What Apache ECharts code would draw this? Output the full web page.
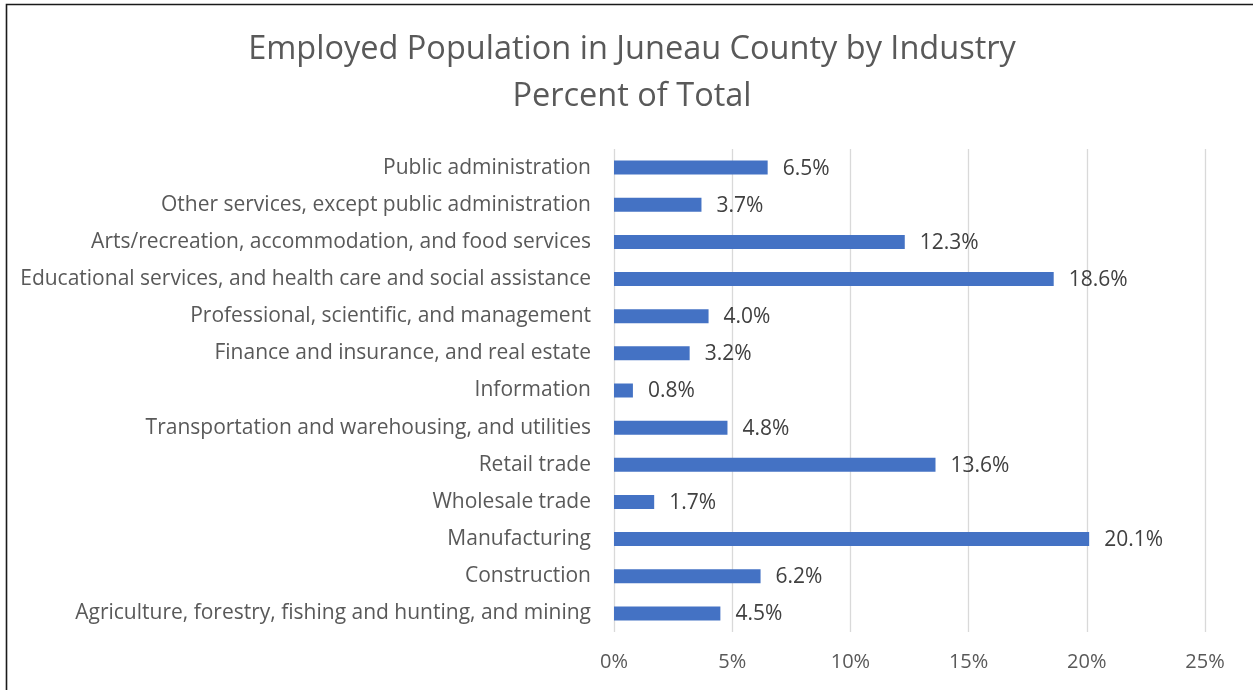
<!DOCTYPE html>
<html>
<head>
<meta charset="utf-8">
<script src="https://cdn.jsdelivr.net/npm/echarts@6/dist/echarts.min.js"></script>
<style>
html,body{margin:0;padding:0;background:#fff;}
#chart{width:1253px;height:690px;}
</style>
</head>
<body>
<div id="chart"></div>
<script>
const categories = [
  "Agriculture, forestry, fishing and hunting, and mining",
  "Construction",
  "Manufacturing",
  "Wholesale trade",
  "Retail trade",
  "Transportation and warehousing, and utilities",
  "Information",
  "Finance and insurance, and real estate",
  "Professional, scientific, and management",
  "Educational services, and health care and social assistance",
  "Arts/recreation, accommodation, and food services",
  "Other services, except public administration",
  "Public administration"
];
const values = [4.5, 6.2, 20.1, 1.7, 13.6, 4.8, 0.8, 3.2, 4.0, 18.6, 12.3, 3.7, 6.5];
const titleLines = ["Employed Population in Juneau County by Industry", "Percent of Total"];

const chart = echarts.init(document.getElementById('chart'), null, {renderer: 'canvas'});
const font = "'Open Sans', 'Noto Sans', sans-serif";
chart.setOption({
  backgroundColor: '#fff',
  animation: false,
  graphic: [{
    type: 'polyline',
    shape: {points: [[6.5, 700], [6.5, 4.5], [1260, 4.5]]},
    style: {stroke: '#1a1a1a', lineWidth: 1.6, fill: null},
    silent: true
  }, {
    type: 'text',
    x: 632, y: 50,
    style: {text: titleLines[0], fontFamily: font, fontSize: 32.5, fill: '#595959', textAlign: 'center', textVerticalAlign: 'middle'},
    silent: true
  }, {
    type: 'text',
    x: 632, y: 97,
    style: {text: titleLines[1], fontFamily: font, fontSize: 32.5, fill: '#595959', textAlign: 'center', textVerticalAlign: 'middle'},
    silent: true
  }],
  grid: {left: 614, right: 48, top: 149, bottom: 58},
  xAxis: {
    type: 'value',
    min: 0, max: 25, interval: 5,
    axisLine: {show: false},
    axisTick: {show: false},
    splitLine: {lineStyle: {color: '#d9d9d9', width: 1.3}},
    axisLabel: {
      formatter: v => v + '%',
      fontFamily: font, fontSize: 20, color: '#595959', margin: 20
    }
  },
  yAxis: {
    type: 'category',
    data: categories,
    axisLine: {show: false},
    axisTick: {show: false},
    axisLabel: {fontFamily: font, fontSize: 21, color: '#595959', margin: 23}
  },
  series: [{
    type: 'bar',
    data: values,
    barWidth: 14,
    itemStyle: {color: '#4472C4'},
    label: {
      show: true,
      position: 'right',
      distance: 15,
      offset: [0, 1],
      formatter: p => p.value.toFixed(1) + '%',
      fontFamily: font, fontSize: 21, color: '#404040'
    }
  }]
});
</script>
</body>
</html>
